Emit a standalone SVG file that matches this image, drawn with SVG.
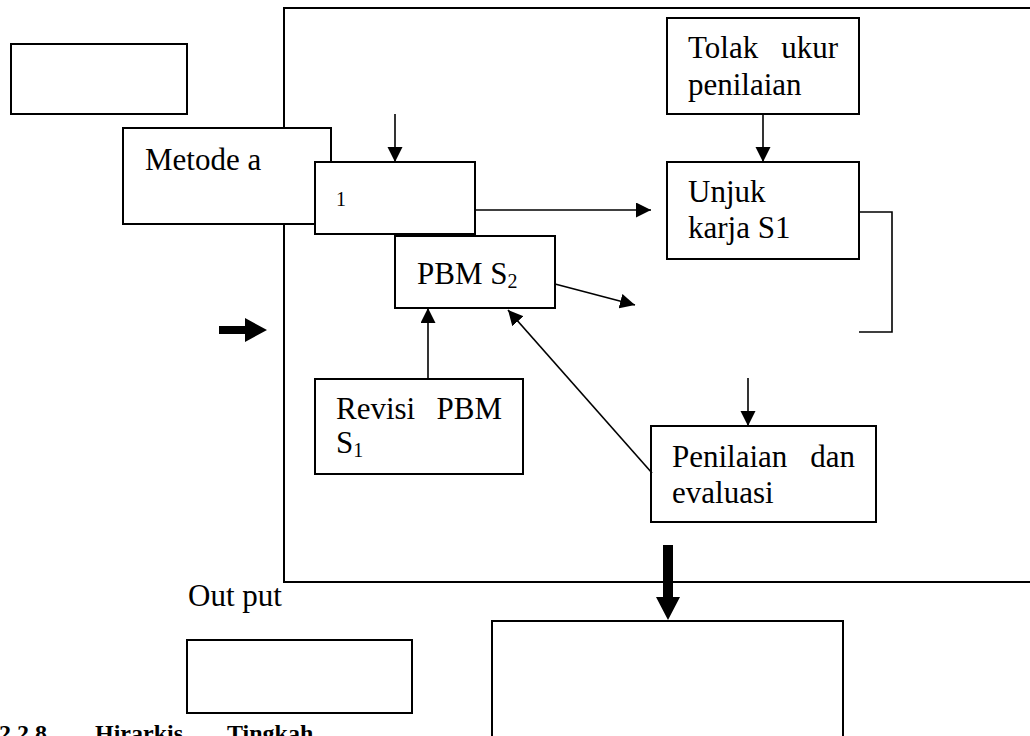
<svg xmlns="http://www.w3.org/2000/svg" width="1030" height="736" viewBox="0 0 1030 736">
<style>
.box{fill:#fff;stroke:#000;stroke-width:2}
.frame{fill:none;stroke:#000;stroke-width:2}
.t{font-family:"Liberation Serif","Times New Roman",serif;font-size:31px;fill:#000}
.sub{font-size:20px}
.small{font-family:"Liberation Serif","Times New Roman",serif;font-size:20px;fill:#000}
.cap{font-family:"Liberation Serif","Times New Roman",serif;font-size:24px;font-weight:bold;fill:#000}
.ln{fill:none;stroke:#000;stroke-width:1.6}
</style>
<defs>
<marker id="ah" markerUnits="userSpaceOnUse" markerWidth="16" markerHeight="16" refX="15" refY="7.5" orient="auto">
<path d="M0,0 L15,7.5 L0,15 z" fill="#000"/>
</marker>
</defs>
<rect width="1030" height="736" fill="#fff"/>
<g id="frame"><rect class="frame" x="284" y="8" width="770" height="574"/></g>
<g id="box-topleft"><rect class="box" x="11" y="44" width="176" height="70"/></g>
<g id="metode"><rect class="box" x="123" y="128" width="208" height="96"/><text class="t" x="145" y="170">Metode a</text></g>
<g id="box1"><rect class="box" x="315" y="162" width="160" height="72"/><text class="small" x="336" y="206">1</text></g>
<g id="tolak"><rect class="box" x="667" y="18" width="192" height="96"/><text class="t" x="688" y="58">Tolak</text><text class="t" x="838" y="58" text-anchor="end">ukur</text><text class="t" x="688" y="95">penilaian</text></g>
<g id="unjuk"><rect class="box" x="667" y="162" width="192" height="97"/><text class="t" x="688" y="202">Unjuk</text><text class="t" x="688" y="238">karja S1</text></g>
<g id="pbm2"><rect class="box" x="395" y="236" width="160" height="72"/><text class="t" x="417" y="284">PBM S<tspan class="sub" dy="4">2</tspan></text></g>
<g id="revisi"><rect class="box" x="315" y="379" width="208" height="95"/><text class="t" x="336" y="419">Revisi</text><text class="t" x="502" y="419" text-anchor="end">PBM</text><text class="t" x="336" y="453">S<tspan class="sub" dy="4">1</tspan></text></g>
<g id="penilaian"><rect class="box" x="651" y="426" width="225" height="96"/><text class="t" x="672" y="467">Penilaian</text><text class="t" x="855" y="467" text-anchor="end">dan</text><text class="t" x="672" y="503">evaluasi</text></g>
<g id="output-label"><text class="t" x="188" y="606">Out put</text></g>
<g id="output-box"><rect class="box" x="187" y="640" width="225" height="73"/></g>
<g id="box-bottom"><rect class="box" x="492" y="621" width="351" height="135"/></g>
<g id="caption"><text class="cap" y="741"><tspan x="-1">2.2.8</tspan><tspan x="95">Hirarkis</tspan><tspan x="227">Tingkah</tspan></text></g>
<g id="connectors">
<line class="ln" x1="395" y1="114" x2="395" y2="162" marker-end="url(#ah)"/>
<line class="ln" x1="475" y1="210" x2="651" y2="210" marker-end="url(#ah)"/>
<line class="ln" x1="763" y1="114" x2="763" y2="162" marker-end="url(#ah)"/>
<line class="ln" x1="555" y1="284" x2="635" y2="305" marker-end="url(#ah)"/>
<line class="ln" x1="428" y1="379" x2="428" y2="308" marker-end="url(#ah)"/>
<line class="ln" x1="652" y1="473" x2="508" y2="310" marker-end="url(#ah)"/>
<line class="ln" x1="748" y1="378" x2="748" y2="426" marker-end="url(#ah)"/>
<path class="ln" d="M859,212 H892 V332 H859"/>
<path d="M219,326 H245 V318 L267,330 L245,342 V334 H219 z" fill="#000"/>
<path d="M663,545 H673 V597 L680,597 L668,620 L656,597 L663,597 z" fill="#000"/>
</g>
</svg>
